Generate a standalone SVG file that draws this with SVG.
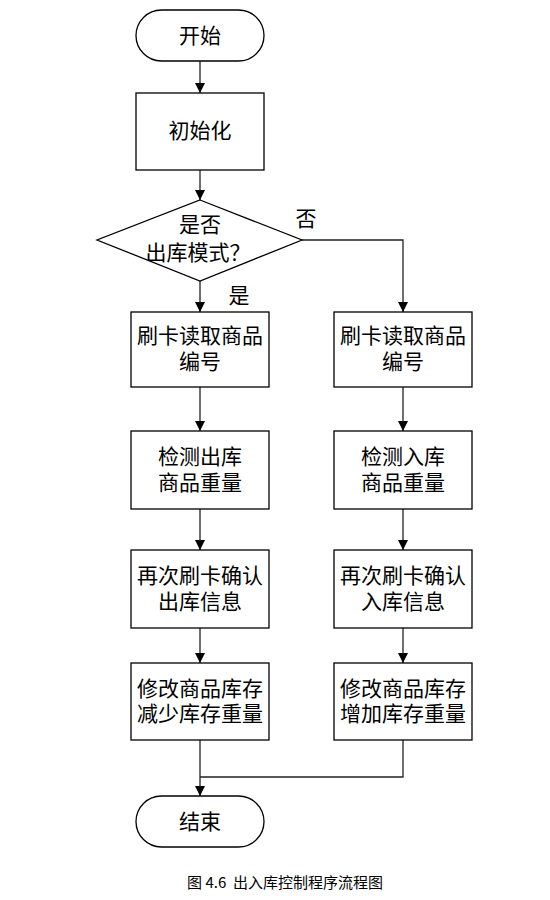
<svg xmlns="http://www.w3.org/2000/svg" width="550" height="900" viewBox="0 0 550 900">
<style>
.n{fill:#fff;stroke:#000;stroke-width:1.3}
.t{font-family:"Noto Sans CJK SC","Liberation Serif",serif;font-size:21px;fill:#000;text-anchor:middle;dominant-baseline:central}
.c{fill:none;stroke:#222;stroke-width:1.3}
.cap{font-family:"Noto Sans CJK SC","Liberation Serif",serif;font-size:15px;fill:#000;text-anchor:middle;dominant-baseline:central}
</style>
<defs>
<marker id="a" viewBox="0 0 10 10" refX="10" refY="5" markerWidth="10" markerHeight="10" markerUnits="userSpaceOnUse" orient="auto">
<path d="M0,0 L10,5 L0,10 z" fill="#000"/>
</marker>
</defs>
<rect width="550" height="900" fill="#fff"/>
<g id="connectors">
<line class="c" x1="200" y1="61" x2="200" y2="93" marker-end="url(#a)"/>
<line class="c" x1="200" y1="170" x2="200" y2="200" marker-end="url(#a)"/>
<line class="c" x1="200" y1="281" x2="200" y2="312" marker-end="url(#a)"/>
<polyline class="c" points="302,240 403,240 403,312" marker-end="url(#a)"/>
<line class="c" x1="200" y1="387" x2="200" y2="431" marker-end="url(#a)"/>
<line class="c" x1="403" y1="387" x2="403" y2="431" marker-end="url(#a)"/>
<line class="c" x1="200" y1="509" x2="200" y2="550" marker-end="url(#a)"/>
<line class="c" x1="403" y1="509" x2="403" y2="550" marker-end="url(#a)"/>
<line class="c" x1="200" y1="628" x2="200" y2="663" marker-end="url(#a)"/>
<line class="c" x1="403" y1="628" x2="403" y2="663" marker-end="url(#a)"/>
<line class="c" x1="200" y1="740" x2="200" y2="796" marker-end="url(#a)"/>
<polyline class="c" points="403,740 403,777 200,777"/>
<text class="t" x="306" y="217">否</text>
<text class="t" x="239" y="294">是</text>
</g>
<g id="start"><rect class="n" x="136" y="10" width="128" height="51" rx="25.5"/><text class="t" x="200" y="34">开始</text></g>
<g id="init"><rect class="n" x="136" y="93" width="128" height="77"/><text class="t" x="200" y="129">初始化</text></g>
<g id="decision"><polygon class="n" points="200,200 302,240 200,281 97,240"/><text class="t" x="200" y="223">是否</text><text class="t" x="198" y="251">出库模式？</text></g>
<g id="l1"><rect class="n" x="131" y="312" width="138" height="75"/><text class="t" x="200" y="334">刷卡读取商品</text><text class="t" x="200" y="360">编号</text></g>
<g id="r1"><rect class="n" x="334" y="312" width="138" height="75"/><text class="t" x="403" y="334">刷卡读取商品</text><text class="t" x="403" y="360">编号</text></g>
<g id="l2"><rect class="n" x="131" y="431" width="138" height="78"/><text class="t" x="200" y="455">检测出库</text><text class="t" x="200" y="481">商品重量</text></g>
<g id="r2"><rect class="n" x="334" y="431" width="138" height="78"/><text class="t" x="403" y="455">检测入库</text><text class="t" x="403" y="481">商品重量</text></g>
<g id="l3"><rect class="n" x="131" y="550" width="138" height="78"/><text class="t" x="200" y="574">再次刷卡确认</text><text class="t" x="200" y="600">出库信息</text></g>
<g id="r3"><rect class="n" x="334" y="550" width="138" height="78"/><text class="t" x="403" y="574">再次刷卡确认</text><text class="t" x="403" y="600">入库信息</text></g>
<g id="l4"><rect class="n" x="131" y="663" width="138" height="77"/><text class="t" x="200" y="687">修改商品库存</text><text class="t" x="200" y="712">减少库存重量</text></g>
<g id="r4"><rect class="n" x="334" y="663" width="138" height="77"/><text class="t" x="403" y="687">修改商品库存</text><text class="t" x="403" y="712">增加库存重量</text></g>
<g id="end"><rect class="n" x="136" y="796" width="128" height="51" rx="25.5"/><text class="t" x="200" y="820">结束</text></g>
<text class="cap" x="285" y="881" xml:space="preserve">图 4.6  出入库控制程序流程图</text>
</svg>
